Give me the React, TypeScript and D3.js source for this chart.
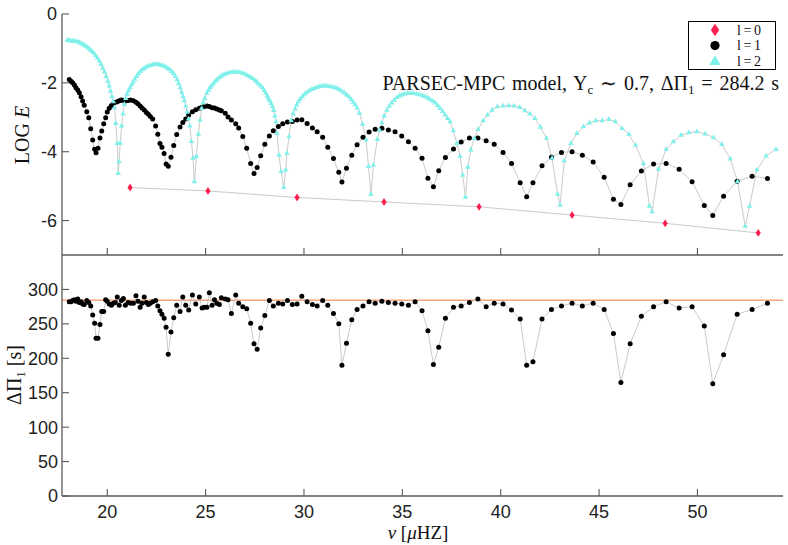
import React from "react";
import * as d3 from "d3";

// ---------- data ----------
const NU_L0 = [21.16, 25.12, 29.65, 34.07, 38.9, 43.63, 48.36, 53.09];
const LOGE_L0 = [-5.04, -5.14, -5.33, -5.46, -5.6, -5.84, -6.08, -6.36];

const NU_L1 = [
  18.07, 18.16, 18.24, 18.33, 18.41, 18.5, 18.58, 18.67, 18.75, 18.83,
  18.96, 19.06, 19.16, 19.26, 19.36, 19.43, 19.53, 19.63, 19.72, 19.82,
  19.92, 20.0, 20.1, 20.21, 20.31, 20.41, 20.51, 20.61, 20.72, 20.82,
  20.92, 21.06, 21.19, 21.33, 21.46, 21.56, 21.67, 21.77, 21.88, 21.99,
  22.09, 22.19, 22.31, 22.46, 22.57, 22.68, 22.78, 22.89, 22.99, 23.1,
  23.24, 23.38, 23.53, 23.7, 23.84, 23.99, 24.14, 24.33, 24.5, 24.68,
  24.82, 24.94, 25.07, 25.19, 25.33, 25.45, 25.57, 25.7, 25.8, 26.0,
  26.14, 26.31, 26.53, 26.68, 26.89, 27.09, 27.29, 27.46, 27.62, 27.8,
  28.01, 28.24, 28.44, 28.7, 28.92, 29.16, 29.41, 29.65, 29.89, 30.16,
  30.43, 30.67, 30.95, 31.21, 31.5, 31.77, 31.93, 32.16, 32.43, 32.7,
  33.0, 33.31, 33.62, 33.96, 34.29, 34.63, 34.97, 35.31, 35.65, 36.0,
  36.3, 36.58, 36.85, 37.19, 37.6, 37.99, 38.41, 38.84, 39.26, 39.67,
  40.12, 40.55, 40.99, 41.32, 41.64, 42.1, 42.58, 43.09, 43.63, 44.15,
  44.7, 45.26, 45.73, 46.11, 46.58, 47.15, 47.77, 48.41, 49.07, 49.73,
  50.35, 50.78, 51.33, 52.02, 52.78, 53.56,
];
const LOGE_L1 = [
  -1.9, -1.95, -2.0, -2.06, -2.14, -2.21, -2.29, -2.4, -2.53, -2.65,
  -2.84, -3.01, -3.33, -3.66, -3.93, -4.03, -3.9, -3.6, -3.4, -3.19,
  -3.01, -2.85, -2.74, -2.66, -2.59, -2.56, -2.55, -2.52, -2.5, -2.51,
  -2.53, -2.51, -2.5, -2.52, -2.56, -2.61, -2.67, -2.73, -2.79, -2.86,
  -2.91, -2.98, -3.05, -3.25, -3.49, -3.76, -3.87, -4.05, -4.36, -4.42,
  -4.16, -3.82, -3.5, -3.28, -3.15, -3.05, -2.93, -2.84, -2.78, -2.74,
  -2.71, -2.69, -2.67, -2.69, -2.72, -2.73, -2.76, -2.79, -2.81, -2.88,
  -2.99, -3.08, -3.19, -3.31, -3.56, -3.9, -4.34, -4.63, -4.46, -4.12,
  -3.78, -3.54, -3.39, -3.27, -3.19, -3.14, -3.12, -3.08, -3.07, -3.18,
  -3.31, -3.42, -3.58, -3.87, -4.2, -4.6, -4.88, -4.48, -4.1, -3.8,
  -3.58, -3.43, -3.35, -3.32, -3.37, -3.42, -3.54, -3.71, -3.9, -4.19,
  -4.77, -5.02, -4.55, -4.17, -3.92, -3.72, -3.6, -3.6, -3.68, -3.78,
  -4.02, -4.34, -4.9, -5.31, -4.9, -4.41, -4.16, -4.02, -4.0, -4.1,
  -4.3, -4.74, -5.38, -5.53, -4.96, -4.56, -4.36, -4.34, -4.51, -4.87,
  -5.56, -5.85, -5.29, -4.86, -4.71, -4.78,
];
const DPI_L1 = [
  282, 282, 284, 285, 283, 286, 281, 282, 279, 278,
  284, 281, 276, 263, 251, 229, 229, 249, 268, 268,
  285, 283, 279, 277, 280, 281, 289, 277, 284, 287,
  277, 281, 280, 280, 291, 283, 274, 280, 289, 281,
  278, 280, 282, 284, 276, 269, 264, 258, 245, 206,
  238, 259, 277, 268, 289, 277, 270, 292, 279, 289,
  273, 274, 274, 295, 277, 285, 280, 278, 288, 286,
  285, 265, 292, 280, 275, 272, 251, 221, 213, 244,
  262, 284, 276, 280, 279, 284, 278, 279, 290, 282,
  278, 276, 284, 277, 265, 250, 190, 222, 256, 271,
  276, 282, 280, 283, 281, 280, 279, 277, 282, 269,
  240, 191, 216, 258, 274, 276, 281, 286, 275, 280,
  279, 270, 257, 190, 195, 257, 271, 276, 280, 276,
  280, 271, 236, 165, 221, 261, 275, 282, 273, 275,
  247, 163, 205, 264, 271, 280,
];

const NU_L2 = [
  17.97, 18.06, 18.15, 18.24, 18.33, 18.42, 18.51, 18.6, 18.69, 18.78,
  18.87, 18.96, 19.05, 19.14, 19.23, 19.32, 19.41, 19.5, 19.59, 19.68,
  19.77, 19.86, 19.95, 20.03, 20.1, 20.17, 20.24, 20.31, 20.37, 20.43,
  20.51, 20.56, 20.6, 20.66, 20.73, 20.8, 20.87, 20.94, 21.01, 21.08,
  21.16, 21.24, 21.32, 21.4, 21.49, 21.58, 21.68, 21.78, 21.88, 21.99,
  22.1, 22.21, 22.32, 22.43, 22.54, 22.65, 22.76, 22.87, 22.98, 23.08,
  23.18, 23.28, 23.37, 23.46, 23.55, 23.63, 23.71, 23.78, 23.85, 23.92,
  23.99, 24.06, 24.13, 24.2, 24.28, 24.36, 24.43, 24.53, 24.63, 24.72,
  24.8, 24.88, 24.96, 25.06, 25.15, 25.23, 25.31, 25.39, 25.48, 25.57,
  25.67, 25.78, 25.88, 25.99, 26.11, 26.24, 26.37, 26.5, 26.63, 26.75,
  26.88, 27.01, 27.13, 27.26, 27.38, 27.51, 27.6, 27.68, 27.78, 27.89,
  27.98, 28.06, 28.13, 28.19, 28.26, 28.33, 28.4, 28.46, 28.52, 28.57,
  28.63, 28.73, 28.84, 28.97, 29.07, 29.13, 29.24, 29.35, 29.45, 29.55,
  29.63, 29.71, 29.81, 29.92, 30.03, 30.14, 30.27, 30.4, 30.52, 30.65,
  30.78, 30.9, 31.03, 31.16, 31.29, 31.42, 31.55, 31.68, 31.8, 31.93,
  32.05, 32.17, 32.29, 32.4, 32.5, 32.6, 32.7, 32.82, 32.98, 33.16,
  33.28, 33.4, 33.53, 33.73, 33.85, 33.96, 34.08, 34.21, 34.34, 34.46,
  34.59, 34.72, 34.85, 34.97, 35.11, 35.26, 35.41, 35.56, 35.72, 35.87,
  36.02, 36.16, 36.29, 36.41, 36.54, 36.67, 36.8, 36.92, 37.05, 37.17,
  37.3, 37.43, 37.59, 37.77, 37.94, 38.07, 38.21, 38.33, 38.48, 38.66,
  38.85, 39.11, 39.33, 39.56, 39.83, 40.12, 40.41, 40.68, 40.97, 41.23,
  41.48, 41.74, 42.02, 42.33, 42.61, 42.89, 43.02, 43.23, 43.57, 43.87,
  44.21, 44.51, 44.82, 45.16, 45.5, 45.83, 46.17, 46.52, 46.85, 47.26,
  47.56, 47.7, 48.02, 48.41, 48.78, 49.17, 49.56, 49.97, 50.39, 50.82,
  51.24, 51.67, 52.04, 52.43, 52.65, 53.02, 53.5, 53.99,
];
const LOGE_L2 = [
  -0.76, -0.77, -0.78, -0.78, -0.79, -0.8, -0.81, -0.83, -0.86, -0.89,
  -0.92, -0.95, -0.99, -1.04, -1.09, -1.14, -1.21, -1.28, -1.36, -1.46,
  -1.57, -1.68, -1.81, -1.95, -2.09, -2.24, -2.4, -2.55, -2.72, -3.18,
  -3.76, -4.63, -4.29, -3.75, -3.25, -2.9, -2.62, -2.45, -2.33, -2.23,
  -2.14, -2.05, -1.97, -1.89, -1.81, -1.74, -1.67, -1.62, -1.58, -1.54,
  -1.51, -1.49, -1.47, -1.46, -1.46, -1.47, -1.49, -1.51, -1.54, -1.58,
  -1.62, -1.67, -1.73, -1.81, -1.91, -2.02, -2.14, -2.28, -2.4, -2.52,
  -2.68, -2.85, -3.05, -3.25, -3.7, -4.19, -4.87, -4.14, -3.49, -3.08,
  -2.74, -2.58, -2.45, -2.3, -2.21, -2.14, -2.08, -2.02, -1.96, -1.91,
  -1.86, -1.81, -1.77, -1.75, -1.72, -1.7, -1.69, -1.68, -1.69, -1.7,
  -1.72, -1.75, -1.79, -1.83, -1.87, -1.92, -1.97, -2.02, -2.08, -2.14,
  -2.22, -2.3, -2.38, -2.45, -2.52, -2.6, -2.69, -2.8, -2.96, -3.13,
  -3.47, -4.1, -4.58, -5.04, -4.53, -4.05, -3.56, -3.1, -2.9, -2.76,
  -2.64, -2.55, -2.47, -2.4, -2.33, -2.28, -2.23, -2.19, -2.16, -2.13,
  -2.11, -2.09, -2.09, -2.09, -2.1, -2.12, -2.13, -2.16, -2.2, -2.24,
  -2.29, -2.35, -2.41, -2.48, -2.56, -2.63, -2.73, -2.88, -3.2, -3.66,
  -4.43, -5.24, -4.39, -3.64, -3.38, -3.16, -2.96, -2.79, -2.68, -2.58,
  -2.5, -2.42, -2.38, -2.35, -2.32, -2.3, -2.3, -2.3, -2.32, -2.34,
  -2.37, -2.4, -2.44, -2.48, -2.53, -2.58, -2.66, -2.74, -2.83, -2.93,
  -3.03, -3.13, -3.39, -3.76, -4.14, -4.68, -5.32, -4.45, -3.95, -3.62,
  -3.35, -3.1, -2.93, -2.79, -2.69, -2.67, -2.66, -2.67, -2.71, -2.81,
  -2.9, -3.03, -3.29, -3.61, -4.19, -5.23, -5.55, -4.26, -3.76, -3.47,
  -3.27, -3.16, -3.1, -3.1, -3.06, -3.13, -3.32, -3.5, -3.81, -4.34,
  -5.58, -5.74, -4.51, -3.93, -3.71, -3.52, -3.45, -3.42, -3.48, -3.59,
  -3.79, -4.21, -4.87, -6.16, -5.58, -4.53, -4.12, -3.93,
];

const DPI_ASYMPTOTIC = 284.2;
const X_TICKS = [20, 25, 30, 35, 40, 45, 50];
const TOP_Y_TICKS = [0, -2, -4, -6];
const BOTTOM_Y_TICKS = [0, 50, 100, 150, 200, 250, 300];
const LEGEND_LABELS = ["l=0", "l=1", "l=2"];

// ---------- layout ----------
const W = 788;
const H = 545;
const LEFT = 62;
const RIGHT = 783;
const TOP = 14;
const MID = 255;
const BOTTOM = 496;
const TICK = 7;

const C_LINE = "#c4c4c4";
const C_AXIS = "#5a5a5a";
const C_CYAN = "#7ff0ea";
const C_RED = "#ff1e50";
const C_ORANGE = "#f5a57c";
const SANS = "'Liberation Sans', Arial, Helvetica, sans-serif";
const SERIF = "'Liberation Serif', 'Times New Roman', serif";

const diamond = (w: number, h: number) => `M0,${-h}L${w},0L0,${h}L${-w},0Z`;

export default function App() {
  const x = d3.scaleLinear().domain([17.7, 54.35]).range([LEFT, RIGHT]);
  const yTop = d3.scaleLinear().domain([-7, 0]).range([MID, TOP]);
  const yBot = d3.scaleLinear().domain([0, 350]).range([BOTTOM, MID]);

  const l0 = NU_L0.map((v, i) => [v, LOGE_L0[i]] as [number, number]);
  const l1 = NU_L1.map((v, i) => [v, LOGE_L1[i]] as [number, number]);
  const l2 = NU_L2.map((v, i) => [v, LOGE_L2[i]] as [number, number]);
  const dp = NU_L1.map((v, i) => [v, DPI_L1[i]] as [number, number]);

  const lineTop = d3
    .line<[number, number]>()
    .x((d) => x(d[0]))
    .y((d) => yTop(d[1]));
  const lineBot = d3
    .line<[number, number]>()
    .x((d) => x(d[0]))
    .y((d) => yBot(d[1]));

  const tri = d3.symbol(d3.symbolTriangle, 13)() as string;
  const triLegend = d3.symbol(d3.symbolTriangle, 55)() as string;

  const legendRowY = [30, 45.6, 61.2];

  return (
    <svg
      width={W}
      height={H}
      viewBox={`0 0 ${W} ${H}`}
      style={{ position: "absolute", left: 0, top: 0, background: "#fff" }}
    >
      <rect x={0} y={0} width={W} height={H} fill="#fff" />

      {/* ---------- top panel ---------- */}
      <path d={lineTop(l0) || ""} fill="none" stroke={C_LINE} strokeWidth={0.9} />
      <path d={lineTop(l1) || ""} fill="none" stroke={C_LINE} strokeWidth={0.9} />
      <path d={lineTop(l2) || ""} fill="none" stroke={C_LINE} strokeWidth={0.9} />

      {l0.map((d, i) => (
        <path
          key={`d0-${i}`}
          d={diamond(2.6, 3.9)}
          transform={`translate(${x(d[0])},${yTop(d[1])})`}
          fill={C_RED}
        />
      ))}
      {l1.map((d, i) => (
        <circle key={`d1-${i}`} cx={x(d[0])} cy={yTop(d[1])} r={2.5} fill="#000" />
      ))}
      {l2.map((d, i) => (
        <path
          key={`d2-${i}`}
          d={tri}
          transform={`translate(${x(d[0])},${yTop(d[1])})`}
          fill={C_CYAN}
        />
      ))}

      {/* annotation */}
      <text
        x={779}
        y={90}
        textAnchor="end"
        fontFamily={SERIF}
        fontSize={20}
        fill="#111"
        wordSpacing={1.8}
      >
        PARSEC-MPC model, Y
        <tspan fontSize={13} dy={4}>c</tspan>
        <tspan dy={-4}> ∼ 0.7, ΔΠ</tspan>
        <tspan fontSize={13} dy={4}>1</tspan>
        <tspan dy={-4}> = 284.2 s</tspan>
      </text>

      {/* legend */}
      <rect x={688.5} y={21.5} width={87} height={48} fill="#fff" stroke="#000" strokeWidth={1} />
      <path d={diamond(4.2, 6.3)} transform={`translate(715,${legendRowY[0]})`} fill={C_RED} />
      <circle cx={715} cy={legendRowY[1]} r={4.6} fill="#000" />
      <path d={triLegend} transform={`translate(715,${legendRowY[2] + 0.5})`} fill={C_CYAN} />
      {LEGEND_LABELS.map((t, i) => (
        <text
          key={t}
          x={737}
          y={legendRowY[i]}
          dy="0.34em"
          fontFamily={SERIF}
          fontSize={14}
          fill="#111"
          letterSpacing={2.6}
        >
          {t}
        </text>
      ))}

      {/* top axes */}
      <line x1={LEFT} x2={RIGHT} y1={MID} y2={MID} stroke={C_AXIS} strokeWidth={1.3} />
      {X_TICKS.map((t) => (
        <line
          key={`tx-${t}`}
          x1={x(t)}
          x2={x(t)}
          y1={MID}
          y2={MID - TICK}
          stroke={C_AXIS}
          strokeWidth={1.1}
        />
      ))}
      {TOP_Y_TICKS.map((t) => (
        <g key={`ty-${t}`}>
          <line
            x1={LEFT}
            x2={LEFT + TICK}
            y1={yTop(t)}
            y2={yTop(t)}
            stroke={C_AXIS}
            strokeWidth={1.1}
          />
          <text
            x={57}
            y={yTop(t)}
            dy="0.36em"
            textAnchor="end"
            fontFamily={SANS}
            fontSize={18}
            fill="#222"
          >
            {t < 0 ? `-${Math.abs(t)}` : `${t}`}
          </text>
        </g>
      ))}
      <text
        transform="translate(29,135) rotate(-90)"
        textAnchor="middle"
        fontFamily={SERIF}
        fontSize={20}
        fill="#111"
      >
        LOG <tspan fontStyle="italic">E</tspan>
      </text>

      {/* ---------- bottom panel ---------- */}
      <line
        x1={LEFT}
        x2={RIGHT}
        y1={yBot(DPI_ASYMPTOTIC)}
        y2={yBot(DPI_ASYMPTOTIC)}
        stroke={C_ORANGE}
        strokeWidth={1.6}
      />
      <path d={lineBot(dp) || ""} fill="none" stroke={C_LINE} strokeWidth={0.9} />
      {dp.map((d, i) => (
        <circle key={`p-${i}`} cx={x(d[0])} cy={yBot(d[1])} r={2.5} fill="#000" />
      ))}

      <line x1={LEFT} x2={RIGHT} y1={BOTTOM} y2={BOTTOM} stroke={C_AXIS} strokeWidth={1.3} />
      <line x1={LEFT} x2={LEFT} y1={TOP} y2={BOTTOM} stroke={C_AXIS} strokeWidth={1.3} />
      {X_TICKS.map((t) => (
        <g key={`bx-${t}`}>
          <line
            x1={x(t)}
            x2={x(t)}
            y1={BOTTOM}
            y2={BOTTOM - TICK}
            stroke={C_AXIS}
            strokeWidth={1.1}
          />
          <text
            x={x(t)}
            y={518}
            textAnchor="middle"
            fontFamily={SANS}
            fontSize={18}
            fill="#222"
          >
            {t}
          </text>
        </g>
      ))}
      {BOTTOM_Y_TICKS.map((t) => (
        <g key={`by-${t}`}>
          <line
            x1={LEFT}
            x2={LEFT + TICK}
            y1={yBot(t)}
            y2={yBot(t)}
            stroke={C_AXIS}
            strokeWidth={1.1}
          />
          <text
            x={58}
            y={yBot(t)}
            dy="0.36em"
            textAnchor="end"
            fontFamily={SANS}
            fontSize={18}
            fill="#222"
          >
            {t}
          </text>
        </g>
      ))}
      <text
        transform="translate(21,375) rotate(-90)"
        textAnchor="middle"
        fontFamily={SERIF}
        fontSize={20}
        fill="#111"
      >
        ΔΠ<tspan fontSize={13} dy={4}>1</tspan>
        <tspan dy={-4}> [s]</tspan>
      </text>
      <text x={418} y={539} textAnchor="middle" fontFamily={SERIF} fontSize={19} fill="#111">
        <tspan fontStyle="italic">ν</tspan> [<tspan fontStyle="italic">μ</tspan>HZ]
      </text>
    </svg>
  );
}
